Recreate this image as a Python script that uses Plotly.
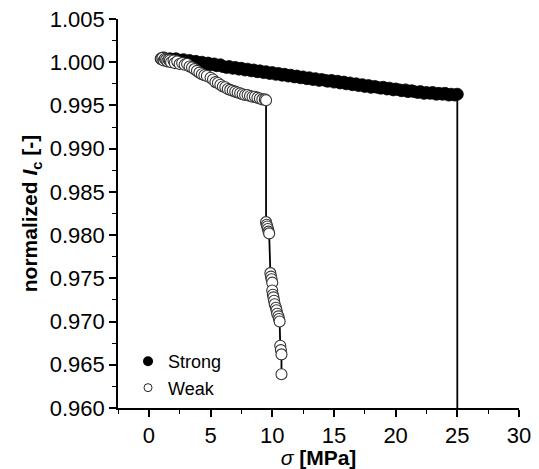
import plotly.graph_objects as go

# Strong sample: applied stress (MPa) and normalized Ic; last point = breakdown
strong_sigma = [1.0, 1.2, 1.5, 1.7, 2.0, 2.2, 2.5, 2.8, 3.0, 3.3, 3.5, 3.8, 4.0, 4.3, 4.5, 4.8,
                5.0, 5.3, 5.5, 5.8, 6.0, 6.3, 6.5, 6.8, 7.0, 7.3, 7.5, 7.8, 8.0, 8.3, 8.5, 8.8,
                9.0, 9.3, 9.5, 9.8, 10.0, 10.3, 10.5, 10.8, 11.0, 11.3, 11.5, 11.8, 12.0, 12.3,
                12.5, 12.8, 13.0, 13.3, 13.5, 13.8, 14.0, 14.3, 14.5, 14.8, 15.0, 15.3, 15.5,
                15.8, 16.0, 16.3, 16.5, 16.8, 17.0, 17.3, 17.5, 17.8, 18.0, 18.3, 18.5, 18.8,
                19.0, 19.3, 19.5, 19.8, 20.0, 20.3, 20.5, 20.8, 21.0, 21.3, 21.5, 21.8, 22.0,
                22.3, 22.5, 22.8, 23.0, 23.3, 23.5, 23.8, 24.0, 24.3, 24.5, 24.8, 25.0, 25.0]
strong_ic = [1.0004, 1.0005, 1.0003, 1.0004, 1.0003, 1.0004, 1.0002, 1.0003, 1.0001, 1.0002,
             1.0000, 1.0001, 0.9999, 1.0000, 0.9998, 0.9999, 0.9997, 0.9998, 0.9996, 0.9997,
             0.9995, 0.9994, 0.9995, 0.9993, 0.9994, 0.9992, 0.9993, 0.9991, 0.9992, 0.9990,
             0.9991, 0.9989, 0.9990, 0.9988, 0.9989, 0.9987, 0.9988, 0.9986, 0.9987, 0.9985,
             0.9986, 0.9984, 0.9985, 0.9983, 0.9984, 0.9982, 0.9983, 0.9981, 0.9982, 0.9980,
             0.9981, 0.9979, 0.9980, 0.9979, 0.9978, 0.9979, 0.9977, 0.9978, 0.9976, 0.9977,
             0.9975, 0.9976, 0.9974, 0.9975, 0.9973, 0.9974, 0.9972, 0.9973, 0.9971, 0.9972,
             0.9971, 0.9970, 0.9971, 0.9969, 0.9970, 0.9968, 0.9969, 0.9968, 0.9967, 0.9968,
             0.9966, 0.9967, 0.9966, 0.9965, 0.9966, 0.9964, 0.9965, 0.9964, 0.9965, 0.9963,
             0.9964, 0.9963, 0.9964, 0.9962, 0.9963, 0.9962, 0.9963, 0.0]

# Weak sample
weak_sigma = [1.0, 1.1, 1.2, 1.3, 1.4, 1.5, 1.6, 1.7, 1.8, 2.0, 2.1, 2.3, 2.5, 2.7, 2.9, 3.1,
              3.3, 3.5, 3.7, 3.9, 4.1, 4.3, 4.5, 4.7, 5.0, 5.2, 5.4, 5.6, 5.8, 6.0, 6.2, 6.4,
              6.6, 6.8, 7.0, 7.2, 7.4, 7.6, 7.8, 8.0, 8.2, 8.4, 8.6, 8.8, 9.0, 9.2, 9.4, 9.5,
              9.5, 9.55, 9.6, 9.65, 9.7, 9.75,
              9.85, 9.9, 9.95, 10.0,
              10.0, 10.05, 10.1, 10.15, 10.2, 10.3, 10.35, 10.4, 10.5, 10.55, 10.6,
              10.65, 10.7, 10.75, 10.75]
weak_ic = [1.0004, 1.0005, 1.0002, 1.0004, 1.0003, 1.0001, 1.0003, 1.0002, 1.0000, 1.0002,
           0.9999, 1.0001, 0.9998, 0.9999, 0.9997, 0.9998, 0.9995, 0.9994, 0.9992, 0.9990,
           0.9988, 0.9986, 0.9985, 0.9984, 0.9982, 0.9980, 0.9977, 0.9976, 0.9974, 0.9972,
           0.9971, 0.9969, 0.9968, 0.9967, 0.9966, 0.9965, 0.9964, 0.9963, 0.9962, 0.9962,
           0.9961, 0.9960, 0.9960, 0.9959, 0.9958, 0.9957, 0.9957, 0.9956,
           0.9815, 0.9812, 0.9810, 0.9807, 0.9804, 0.9802,
           0.9756, 0.9752, 0.9749, 0.9745,
           0.9736, 0.9731, 0.9728, 0.9724, 0.9720, 0.9716, 0.9713, 0.9709, 0.9706, 0.9703,
           0.9700, 0.9672, 0.9667, 0.9662, 0.9639]

x_ticks = [0, 5, 10, 15, 20, 25, 30]
y_ticks = [0.960, 0.965, 0.970, 0.975, 0.980, 0.985, 0.990, 0.995, 1.000, 1.005]

FONT = "Arial, Liberation Sans, sans-serif"

fig = go.Figure()
fig.add_trace(go.Scatter(
    x=strong_sigma, y=strong_ic, mode="lines+markers", showlegend=False,
    line=dict(color="black", width=1.8),
    marker=dict(symbol="circle", size=12, color="black", line=dict(color="black", width=0.8)),
))
fig.add_trace(go.Scatter(
    x=weak_sigma, y=weak_ic, mode="lines+markers", showlegend=False,
    line=dict(color="black", width=1.8),
    marker=dict(symbol="circle", size=11, color="white", line=dict(color="#333333", width=1.1)),
))
# legend entries
fig.add_trace(go.Scatter(x=[None], y=[None], mode="markers", name="Strong",
                         marker=dict(symbol="circle", size=10, color="black")))
fig.add_trace(go.Scatter(x=[None], y=[None], mode="markers", name="Weak",
                         marker=dict(symbol="circle", size=8, color="white",
                                     line=dict(color="#222222", width=1))))

axis_common = dict(
    showline=True, linecolor="black", linewidth=1.6, showgrid=False, zeroline=False,
    ticks="outside", ticklen=7, tickwidth=1.6, tickcolor="black", automargin=False,
    tickfont=dict(family=FONT, size=22, color="black"),
    minor=dict(ticks="outside", ticklen=4, tickwidth=1.4, tickcolor="black", showgrid=False),
)

fig.update_layout(
    width=539, height=469,
    margin=dict(l=118, r=20, t=19, b=61),
    paper_bgcolor="white", plot_bgcolor="white",
    font=dict(family=FONT, color="black"),
    xaxis=dict(range=[-2.5, 30], tickvals=x_ticks, ticktext=[str(v) for v in x_ticks],
               title=dict(text="<i>σ</i> <b>[MPa]</b>", font=dict(family=FONT, size=21), standoff=0),
               **axis_common),
    yaxis=dict(range=[0.960, 1.005], tickvals=y_ticks, ticktext=[f"{v:.3f}" for v in y_ticks],
               title=dict(text="<b>normalized <i>I</i><sub>c</sub> [-]</b>",
                          font=dict(family=FONT, size=21), standoff=6),
               **axis_common),
    legend=dict(x=0.025, y=0.005, xanchor="left", yanchor="bottom",
                bgcolor="rgba(0,0,0,0)", font=dict(family=FONT, size=18),
                tracegroupgap=0, itemsizing="trace"),
)
fig.update_xaxes(minor=dict(tickvals=[-2.5, 2.5, 7.5, 12.5, 17.5, 22.5, 27.5]))
fig.update_yaxes(minor=dict(tickvals=[0.9625, 0.9675, 0.9725, 0.9775, 0.9825, 0.9875,
                                      0.9925, 0.9975, 1.0025]))

fig.write_html("out.html", config={"displayModeBar": False},
               post_script="document.body.style.margin='0';document.body.style.overflow='hidden';")
